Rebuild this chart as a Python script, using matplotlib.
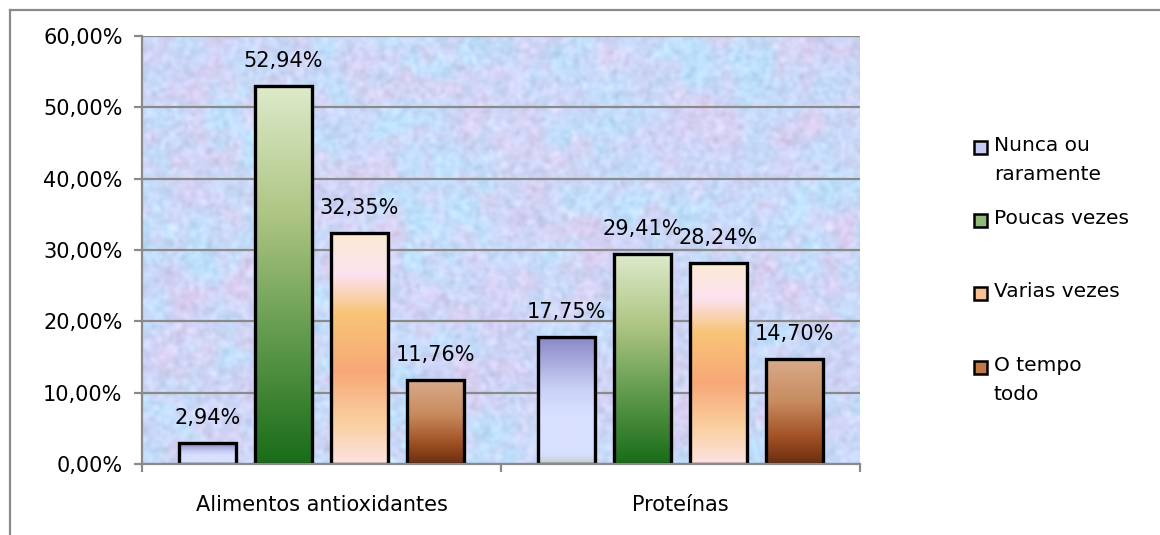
import numpy as np
import matplotlib
matplotlib.use("Agg")
import matplotlib.pyplot as plt
from matplotlib.patches import Rectangle
from matplotlib.lines import Line2D
from matplotlib.colors import LinearSegmentedColormap

categories = ["Alimentos antioxidantes", "Proteínas"]
series = ["Nunca ou\nraramente", "Poucas vezes", "Varias vezes", "O tempo\ntodo"]
values = {
    "Nunca ou\nraramente": [2.94, 17.75],
    "Poucas vezes": [52.94, 29.41],
    "Varias vezes": [32.35, 28.24],
    "O tempo\ntodo": [11.76, 14.70],
}
y_ticks = [0, 10, 20, 30, 40, 50, 60]

# vertical gradient stops (top -> bottom) for each series
gradients = [
    [(0.0, (138, 136, 200)), (0.4, (200, 208, 245)), (0.6, (216, 224, 255)),
     (0.93, (216, 224, 255)), (1.0, (195, 205, 200))],
    [(0.0, (222, 234, 202)), (0.35, (172, 196, 130)), (0.65, (100, 156, 80)),
     (1.0, (24, 108, 24))],
    [(0.0, (252, 234, 210)), (0.18, (252, 226, 240)), (0.35, (248, 196, 118)),
     (0.6, (248, 168, 120)), (0.82, (250, 208, 160)), (1.0, (253, 226, 226))],
    [(0.0, (216, 170, 138)), (0.4, (200, 140, 96)), (0.75, (160, 80, 36)),
     (1.0, (104, 46, 16))],
]
legend_fill = ["#c4ccf2", "#90b878", "#f8c090", "#c07848"]


def fmt(v):
    return f"{v:.2f}%".replace(".", ",")


def make_cmap(stops):
    return LinearSegmentedColormap.from_list(
        "g", [(p, tuple(c / 255 for c in rgb)) for p, rgb in stops])


W, H = 1160, 535
fig = plt.figure(figsize=(W / 100, H / 100), dpi=100)
fig.patch.set_facecolor("white")
plt.rcParams["font.family"] = ["DejaVu Sans"]
FS = 15

x0, x1, y0, y1 = 142, 860, 36, 464
ax = fig.add_axes([x0 / W, 1 - y1 / H, (x1 - x0) / W, (y1 - y0) / H])

# mottled pastel backdrop of the plot area
rng = np.random.default_rng(7)
th, tw = 220, 370
def smooth(a, s):
    fy = np.fft.fftfreq(a.shape[0])[:, None]
    fx = np.fft.fftfreq(a.shape[1])[None, :]
    k = np.exp(-2 * (np.pi * s) ** 2 * (fx ** 2 + fy ** 2))
    r = np.real(np.fft.ifft2(np.fft.fft2(a) * k))
    return (r - r.mean()) / (r.std() + 1e-9)
n1 = smooth(rng.standard_normal((th, tw)), 8)
n2 = smooth(rng.standard_normal((th, tw)), 3.5)
n3 = smooth(rng.standard_normal((th, tw)), 1.0)
blue = np.array([190, 224, 252]) / 255
lav = np.array([206, 212, 246]) / 255
pink = np.array([232, 204, 238]) / 255
t1 = np.clip(0.45 + 0.38 * n1, 0, 1)[..., None]
t2 = np.clip(0.3 + 0.32 * n2, 0, 1)[..., None]
tex = blue * (1 - t1) + lav * t1
tex = tex * (1 - 0.55 * t2) + pink * 0.55 * t2
tex = np.clip(tex + 0.02 * n3[..., None], 0, 1)
ax.imshow(tex, extent=(0, 1, 0, 1), transform=ax.transAxes, aspect="auto",
          zorder=0, interpolation="bilinear")

ax.set_xlim(-0.5, 1.5)
ax.set_ylim(0, 60)
ax.set_yticks(y_ticks)
ax.set_yticklabels([fmt(v) for v in y_ticks], fontsize=FS)
ax.yaxis.grid(True, color="#8a8a8a", linewidth=1.6, zorder=1)
ax.set_axisbelow(True)
for side in ("top", "right"):
    ax.spines[side].set_visible(False)
for side in ("left", "bottom"):
    ax.spines[side].set_color("#8a8a8a")
    ax.spines[side].set_linewidth(1.6)
    ax.spines[side].set_zorder(4)
ax.tick_params(axis="y", length=6, width=1.6, color="#8a8a8a", pad=8)

xc = np.arange(len(categories))
ax.set_xticks(xc)
ax.set_xticklabels(categories, fontsize=FS)
ax.set_xticks([-0.5, 0.5, 1.5], minor=True)
ax.tick_params(axis="x", which="major", length=0, pad=22)
ax.tick_params(axis="x", which="minor", length=6, width=1.6, color="#8a8a8a")

bw = 0.159
step = 0.212
n = len(series)
for i, name in enumerate(series):
    xs = xc + (i - (n - 1) / 2) * step
    bars = ax.bar(xs, values[name], width=bw, facecolor="none",
                  edgecolor="black", linewidth=2.4, zorder=3)
    cmap = make_cmap(gradients[i])
    grad = np.linspace(0, 1, 256)[:, None]
    for rect, v in zip(bars, values[name]):
        bx, by = rect.get_x(), rect.get_y()
        bwid, bh = rect.get_width(), rect.get_height()
        im = ax.imshow(grad, cmap=cmap, aspect="auto", origin="upper",
                       extent=(bx, bx + bwid, by, by + bh), zorder=2,
                       interpolation="bilinear")
        clip = Rectangle((bx, by), bwid, bh, transform=ax.transData)
        im.set_clip_path(clip)
        ax.annotate(fmt(v), (bx + bwid / 2, by + bh), xytext=(0, 18),
                    textcoords="offset points", ha="center", va="center",
                    fontsize=FS, zorder=5)

ax.set_xlim(-0.5, 1.5)
ax.set_ylim(0, 60)

# legend on the right
leg_rows = [147, 220, 293, 367]
for i, name in enumerate(series):
    yc = leg_rows[i]
    fig.patches.append(Rectangle((974 / W, 1 - (yc + 7) / H), 13 / W, 13 / H,
                                 transform=fig.transFigure, facecolor=legend_fill[i],
                                 edgecolor="black", linewidth=1.8))
    fig.text(994 / W, 1 - (yc - 11) / H, name, ha="left", va="top",
             fontsize=14.5, linespacing=1.65)

# outer chart frame
fig.add_artist(Line2D([10 / W, 1.0], [1 - 10 / H] * 2, transform=fig.transFigure,
                      color="#8a8a8a", linewidth=1.6))
fig.add_artist(Line2D([10 / W] * 2, [0.0, 1 - 10 / H], transform=fig.transFigure,
                      color="#8a8a8a", linewidth=1.6))

fig.savefig("out.png", dpi=100)
